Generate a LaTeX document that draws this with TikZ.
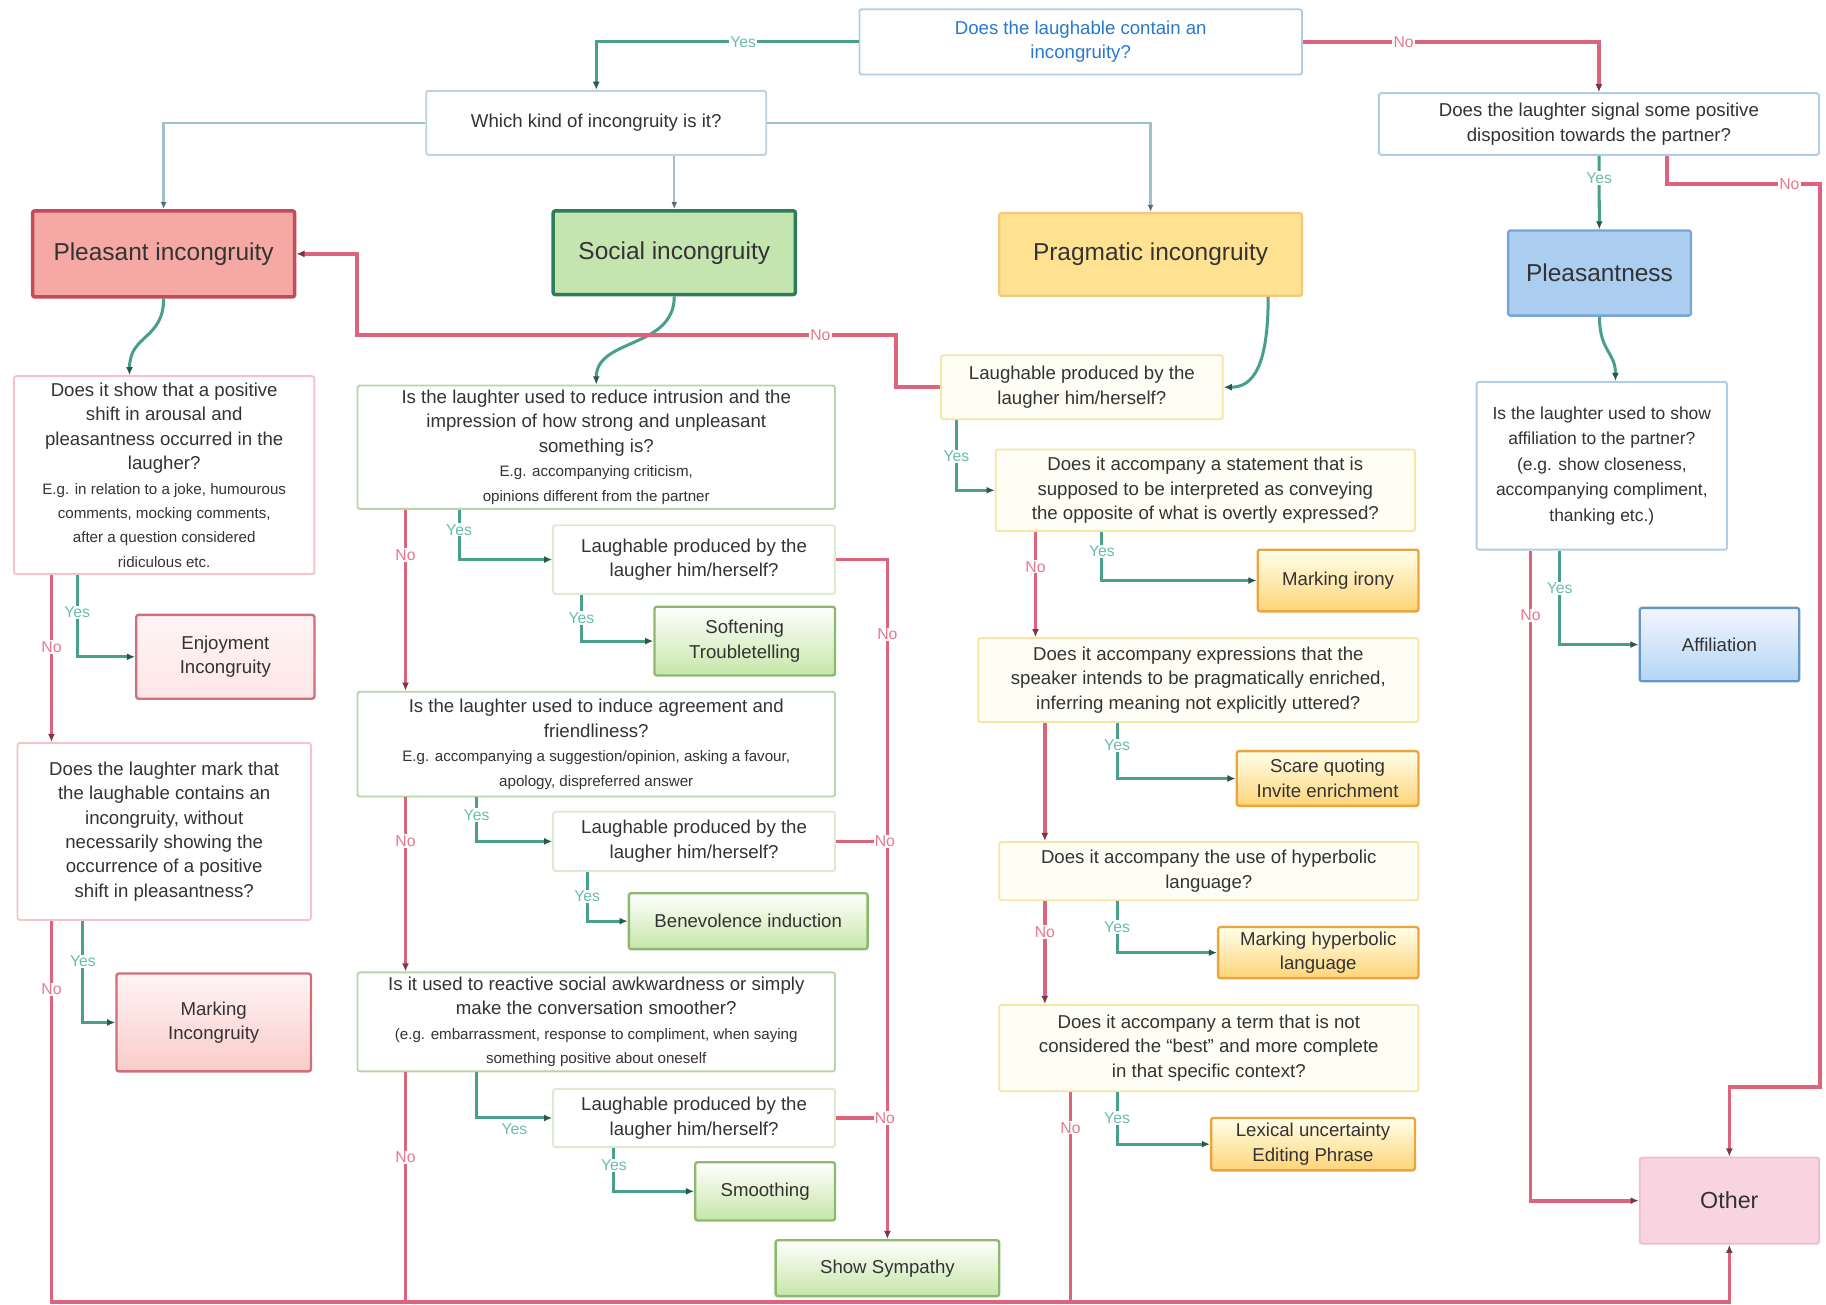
\documentclass[tikz,border=0pt]{standalone}
\usepackage{fontspec}
\setmainfont{Liberation Sans}
\usetikzlibrary{arrows.meta,calc}

\definecolor{yesline}{RGB}{72,160,140}
\definecolor{yestext}{RGB}{105,190,170}
\definecolor{noline}{RGB}{222,100,125}
\definecolor{notext}{RGB}{232,120,140}
\definecolor{linkgrey}{RGB}{160,192,210}
\definecolor{topblue}{RGB}{40,120,210}
\definecolor{pinkedge}{RGB}{245,195,200}
\definecolor{greenedge}{RGB}{185,212,165}
\definecolor{yellowedge}{RGB}{248,228,165}
\definecolor{blueedge}{RGB}{175,205,230}
\definecolor{redcat}{RGB}{246,168,165}
\definecolor{redcatedge}{RGB}{195,75,90}
\definecolor{greencat}{RGB}{196,228,176}
\definecolor{greencatedge}{RGB}{45,125,90}
\definecolor{yellowcat}{RGB}{255,226,145}
\definecolor{yellowcatedge}{RGB}{246,200,120}
\definecolor{bluecat}{RGB}{170,205,240}
\definecolor{bluecatedge}{RGB}{120,165,215}
\definecolor{leafgreen}{RGB}{198,230,168}
\definecolor{leafgreenedge}{RGB}{140,185,110}
\definecolor{leaforange}{RGB}{255,212,120}
\definecolor{leaforangeedge}{RGB}{235,165,60}
\definecolor{leafblue}{RGB}{178,214,245}
\definecolor{leafblueedge}{RGB}{100,150,200}
\definecolor{otherfill}{RGB}{248,212,224}
\definecolor{otheredge}{RGB}{238,190,205}

\newcommand{\askfont}{\fontsize{16}{21}\selectfont}
\newcommand{\notefont}{\fontsize{13}{18}\selectfont}
\newcommand{\catfont}{\fontsize{21}{25}\selectfont}
\newcommand{\tagfont}{\fontsize{13.5}{15}\selectfont}

\begin{document}
\begin{tikzpicture}[x=1pt, y=-1pt,
	box/.style={rectangle, rounded corners=2pt, align=center, inner sep=2pt, text=black!80, font=\askfont, line width=1.6pt},
	askred/.style={box, draw=pinkedge, fill=white},
	askgreen/.style={box, draw=greenedge, fill=white},
	askyellow/.style={box, draw=yellowedge, fill=yellow!4!white},
	askblue/.style={box, draw=blueedge, fill=white},
	catbox/.style={box, font=\catfont, line width=3pt},
	leafred/.style={box, draw=redcatedge!80, top color=red!4!white, bottom color=redcat!60, line width=2pt},
	leafgreen/.style={box, draw=leafgreenedge, top color=white, bottom color=leafgreen, line width=2pt},
	leaforange/.style={box, draw=leaforangeedge, top color=yellow!8!white, bottom color=leaforange, line width=2pt},
	leafblue/.style={box, draw=leafblueedge, top color=blue!4!white, bottom color=leafblue, line width=2pt},
	yesarrow/.style={draw=yesline, line width=2.6pt, -{Latex[length=7pt,width=6pt,color=yesline!55!black]}},
	noarrow/.style={draw=noline, line width=3.2pt, -{Latex[length=7pt,width=6pt,color=noline!55!black]}},
	linkarrow/.style={draw=linkgrey, line width=2pt, -{Latex[length=6pt,width=5pt,color=linkgrey!55!black]}},
	yestag/.style={fill=white, text=yestext, font=\tagfont, inner sep=1pt},
	notag/.style={fill=white, text=notext, font=\tagfont, inner sep=1pt}]
	\useasboundingbox (0,0) rectangle (1568,1120.6);
	\coordinate (floor) at (0,1118);

	%top questions
	\node[askblue, text=topblue, minimum width=380pt, minimum height=56pt] (top) at (928,36) {Does the laughable contain an\\incongruity?};
	\node[askblue, draw=linkgrey!70, minimum width=292pt, minimum height=55pt] (which) at (512,105.5) {Which kind of incongruity is it?};
	\node[askblue, minimum width=378pt, minimum height=53pt] (signal) at (1373,106.5) {Does the laughter signal some positive\\disposition towards the partner?};

	%categories
	\node[catbox, fill=redcat, draw=redcatedge, minimum width=225pt, minimum height=74pt] (pleasant) at (140.5,218) {Pleasant incongruity};
	\node[catbox, fill=greencat, draw=greencatedge, minimum width=208pt, minimum height=72pt] (social) at (579,217) {Social incongruity};
	\node[catbox, fill=yellowcat, draw=yellowcatedge, line width=2pt, minimum width=260pt, minimum height=71pt] (pragmatic) at (988,218.5) {Pragmatic incongruity};
	\node[catbox, fill=bluecat, draw=bluecatedge, line width=2pt, minimum width=157pt, minimum height=73pt] (pleasantness) at (1373.5,234.5) {Pleasantness};

	%pleasant incongruity column
	\node[askred, minimum width=258pt, minimum height=170pt] (q1) at (141,408) {Does it show that a positive\\shift in arousal and\\pleasantness occurred in the\\laugher?\\\notefont E.g. in relation to a joke, humourous\\\notefont comments, mocking comments,\\\notefont after a question considered\\\notefont ridiculous etc.};
	\node[leafred, top color=red!4!white, bottom color=red!10!white, minimum width=153pt, minimum height=72pt] (enjoy) at (193.5,564) {Enjoyment\\Incongruity};
	\node[askred, minimum width=252pt, minimum height=152pt] (q2) at (141,714) {Does the laughter mark that\\the laughable contains an\\incongruity, without\\necessarily showing the\\occurrence of a positive\\shift in pleasantness?};
	\node[leafred, minimum width=167pt, minimum height=84pt] (markinc) at (183.5,878) {Marking\\Incongruity};

	%social incongruity column
	\node[askgreen, minimum width=410pt, minimum height=106pt] (s1) at (512,384) {Is the laughter used to reduce intrusion and the\\impression of how strong and unpleasant\\something is?\\\notefont E.g. accompanying criticism,\\\notefont opinions different from the partner};
	\node[askgreen, draw=greenedge!50, minimum width=242pt, minimum height=59pt] (l1) at (596,480.5) {Laughable produced by the\\laugher him/herself?};
	\node[leafgreen, minimum width=155pt, minimum height=59pt] (soften) at (639.5,550.5) {Softening\\Troubletelling};
	\node[askgreen, minimum width=410pt, minimum height=90pt] (s2) at (512,639) {Is the laughter used to induce agreement and\\friendliness?\\\notefont E.g. accompanying a suggestion/opinion, asking a favour,\\\notefont apology, dispreferred answer};
	\node[askgreen, draw=greenedge!50, minimum width=242pt, minimum height=51pt] (l2) at (596,722.5) {Laughable produced by the\\laugher him/herself?};
	\node[leafgreen, minimum width=205pt, minimum height=48pt] (benev) at (642.5,791) {Benevolence induction};
	\node[askgreen, minimum width=410pt, minimum height=85pt] (s3) at (512,877.5) {Is it used to reactive social awkwardness or simply\\make the conversation smoother?\\\notefont (e.g. embarrassment, response to compliment, when saying\\\notefont something positive about oneself};
	\node[askgreen, draw=greenedge!50, minimum width=242pt, minimum height=50pt] (l3) at (596,960) {Laughable produced by the\\laugher him/herself?};
	\node[leafgreen, minimum width=120pt, minimum height=50pt] (smooth) at (657,1023) {Smoothing};
	\node[leafgreen, minimum width=192pt, minimum height=48pt] (sympathy) at (762,1089) {Show Sympathy};

	%pragmatic incongruity column
	\node[askyellow, minimum width=242pt, minimum height=55pt] (p0) at (929,332.5) {Laughable produced by the\\laugher him/herself?};
	\node[askyellow, minimum width=360pt, minimum height=70pt] (p1) at (1035,421) {Does it accompany a statement that is\\supposed to be interpreted as conveying\\the opposite of what is overtly expressed?};
	\node[leaforange, minimum width=138pt, minimum height=53pt] (irony) at (1149,498.5) {Marking irony};
	\node[askyellow, minimum width=378pt, minimum height=72pt] (p2) at (1029,584) {Does it accompany expressions that the\\speaker intends to be pragmatically enriched,\\inferring meaning not explicitly uttered?};
	\node[leaforange, minimum width=156pt, minimum height=47pt] (scare) at (1140,668.5) {Scare quoting\\Invite enrichment};
	\node[askyellow, minimum width=360pt, minimum height=50pt] (p3) at (1038,748) {Does it accompany the use of hyperbolic\\language?};
	\node[leaforange, minimum width=172pt, minimum height=44pt] (hyper) at (1132,818) {Marking hyperbolic\\language};
	\node[askyellow, minimum width=360pt, minimum height=74pt] (p4) at (1038,900) {Does it accompany a term that is not\\considered the “best” and more complete\\in that specific context?};
	\node[leaforange, minimum width=175pt, minimum height=45pt] (lexical) at (1127.5,982.5) {Lexical uncertainty\\Editing Phrase};

	%pleasantness column
	\node[askblue, font=\fontsize{15}{22}\selectfont, minimum width=215pt, minimum height=144pt] (a1) at (1375.5,400) {Is the laughter used to show\\affiliation to the partner?\\(e.g. show closeness,\\accompanying compliment,\\thanking etc.)};
	\node[leafblue, minimum width=137pt, minimum height=63pt] (affil) at (1476.5,553.5) {Affiliation};
	\node[box, font=\fontsize{20}{24}\selectfont, fill=otherfill, draw=otheredge, minimum width=154pt, minimum height=74pt] (other) at (1485,1031) {Other};

	%first decisions
	\draw[yesarrow] (top.west) -| node[pos=0.22, yestag] {Yes} (which);
	\draw[noarrow] (top.east) -| node[pos=0.17, notag] {No} (signal);
	\draw[linkarrow] (which.west) -| (pleasant);
	\draw[linkarrow] (which.south -| social.north) -- (social.north);
	\draw[linkarrow] (which.east) -| (pragmatic);
	\draw[yesarrow] (signal) -- node[pos=0.3, yestag] {Yes} (pleasantness);
	\draw[noarrow] ($(signal.south west)+(248,0)$) -- ++(0,24) -| node[pos=0.4, notag] {No} ($(other.north east)+(0,-60)$) -| (other);

	%curved entries
	\draw[yesarrow] (pleasant.south) .. controls +(0,35) and +(0,-35) .. ($(q1.north west)+(100,0)$);
	\draw[yesarrow] (social.south) .. controls +(0,45) and +(0,-40) .. (s1.north);
	\draw[yesarrow] ($(pragmatic.south east)+(-30,0)$) .. controls +(0,60) and +(25,0) .. (p0.east);
	\draw[yesarrow] (pleasantness.south) .. controls +(0,30) and +(0,-25) .. ($(a1.north west)+(120,0)$);

	%pleasant incongruity branches
	\draw[yesarrow] ($(q1.south west)+(55,0)$) |- node[pos=0.23, yestag] {Yes} (enjoy);
	\draw[noarrow] ($(q1.south west)+(33,0)$) -- node[pos=0.43, notag] {No} ($(q2.north west)+(30,0)$);
	\draw[yesarrow] ($(q2.south west)+(57,0)$) |- node[pos=0.2, yestag] {Yes} (markinc);
	\draw[noarrow] ($(q2.south west)+(30,0)$) coordinate (q2no) -- node[pos=0.18, notag] {No} (q2no |- floor) -| (other);

	%social incongruity branches
	\draw[yesarrow] ($(s1.south west)+(88,0)$) |- node[pos=0.2, yestag] {Yes} (l1);
	\draw[yesarrow] ($(l1.south west)+(25,0)$) |- node[pos=0.25, yestag] {Yes} (soften);
	\draw[noarrow] (l1.east) -| node[pos=0.555, notag] {No} (sympathy);
	\draw[noarrow] ($(s1.south west)+(42,0)$) -- node[pos=0.25, notag] {No} ($(s2.north west)+(42,0)$);
	\draw[yesarrow] ($(s2.south west)+(103,0)$) |- node[pos=0.2, yestag] {Yes} (l2);
	\draw[yesarrow] ($(l2.south west)+(30,0)$) |- node[pos=0.25, yestag] {Yes} (benev);
	\draw[noarrow, -] (l2.east) -- node[pos=0.95, notag] {No} (l2.east -| sympathy);
	\draw[noarrow] ($(s2.south west)+(42,0)$) -- node[pos=0.25, notag] {No} ($(s3.north west)+(42,0)$);
	\draw[yesarrow] ($(s3.south west)+(103,0)$) |- node[pos=0.75, anchor=north, yestag, yshift=-3pt] {Yes} (l3);
	\draw[yesarrow] ($(l3.south west)+(53,0)$) |- node[pos=0.2, yestag] {Yes} (smooth);
	\draw[noarrow, -] (l3.east) -- node[pos=0.95, notag] {No} (l3.east -| sympathy);
	\draw[noarrow, -] ($(s3.south west)+(42,0)$) coordinate (s3no) -- node[pos=0.37, notag] {No} (s3no |- floor);

	%pragmatic incongruity branches
	\draw[noarrow] (p0.west) -- ++(-38,0) -- ++(0,-45) -| node[pos=0.07, notag] {No} ($(pleasant.east)+(52,0)$) -- (pleasant.east);
	\draw[yesarrow] ($(p0.south west)+(14,0)$) |- node[pos=0.26, yestag] {Yes} (p1);
	\draw[yesarrow] ($(p1.south west)+(92,0)$) |- node[pos=0.2, yestag] {Yes} (irony);
	\draw[noarrow] ($(p1.south west)+(35,0)$) -- node[pos=0.33, notag] {No} ($(p2.north west)+(50,0)$);
	\draw[yesarrow] ($(p2.south west)+(120,0)$) |- node[pos=0.2, yestag] {Yes} (scare);
	\draw[noarrow] ($(p2.south west)+(58,0)$) -- ($(p3.north west)+(40,0)$);
	\draw[yesarrow] ($(p3.south west)+(102,0)$) |- node[pos=0.25, yestag] {Yes} (hyper);
	\draw[noarrow] ($(p3.south west)+(40,0)$) -- node[pos=0.3, notag] {No} ($(p4.north west)+(40,0)$);
	\draw[yesarrow] ($(p4.south west)+(102,0)$) |- node[pos=0.25, yestag] {Yes} (lexical);
	\draw[noarrow, -] ($(p4.south west)+(62,0)$) coordinate (p4no) -- node[pos=0.17, notag] {No} (p4no |- floor);

	%pleasantness branches
	\draw[yesarrow] ($(a1.south west)+(72,0)$) |- node[pos=0.2, yestag] {Yes} (affil);
	\draw[noarrow] ($(a1.south west)+(47,0)$) |- node[pos=0.05, notag] {No} (other);
\end{tikzpicture}
\end{document}
